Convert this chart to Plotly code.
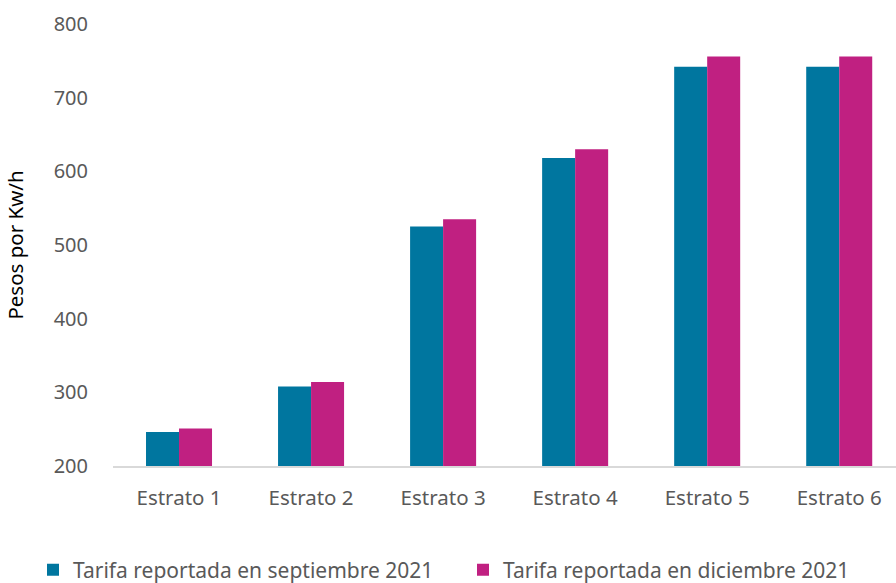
import plotly.graph_objects as go

categories = ["Estrato 1", "Estrato 2", "Estrato 3", "Estrato 4", "Estrato 5", "Estrato 6"]
sep_2021 = [246, 308, 525, 618, 742, 742]
dic_2021 = [251, 314, 535, 630, 756, 756]
series_names = ["Tarifa reportada en septiembre 2021", "Tarifa reportada en diciembre 2021"]
y_ticks = [200, 300, 400, 500, 600, 700, 800]

FONT = "Noto Sans"
GRAY = "#595959"

fig = go.Figure()
fig.add_trace(go.Bar(x=categories, y=sep_2021, name=series_names[0],
                     marker=dict(color="#00769F", line=dict(width=0)),
                     legend="legend"))
fig.add_trace(go.Bar(x=categories, y=dic_2021, name=series_names[1],
                     marker=dict(color="#C02081", line=dict(width=0)),
                     legend="legend2"))

legend_common = dict(orientation="h", xref="container", yref="container",
                     xanchor="left", y=0.022, yanchor="middle",
                     font=dict(family=FONT, size=21, color=GRAY),
                     itemwidth=30, bgcolor="rgba(0,0,0,0)")

fig.update_layout(
    width=896, height=583,
    margin=dict(l=113, r=0, t=24, b=117),
    paper_bgcolor="white", plot_bgcolor="white",
    barmode="group", bargap=0.5, bargroupgap=0,
    font=dict(family=FONT, size=20, color=GRAY),
    showlegend=True,
    legend=dict(x=33 / 896, **legend_common),
    legend2=dict(x=463 / 896, **legend_common),
    xaxis=dict(range=[-0.5, 5.43], showgrid=False, showline=True,
               linecolor="#D9D9D9", linewidth=2, ticks="outside", ticklen=12,
               tickcolor="rgba(0,0,0,0)", automargin=False,
               tickfont=dict(family=FONT, size=20.5, color=GRAY)),
    yaxis=dict(range=[200, 800], tickvals=y_ticks, showgrid=False,
               showline=False, zeroline=False, ticks="outside", ticklen=20,
               tickcolor="rgba(0,0,0,0)", automargin=False,
               tickfont=dict(family=FONT, size=20, color=GRAY),
               title=dict(text="Pesos por Kw/h", standoff=24,
                          font=dict(family=FONT, size=20.5, color="black"))),
)

fig.write_html("out.html", config={"displayModeBar": False},
               post_script="document.body.style.margin='0';")
